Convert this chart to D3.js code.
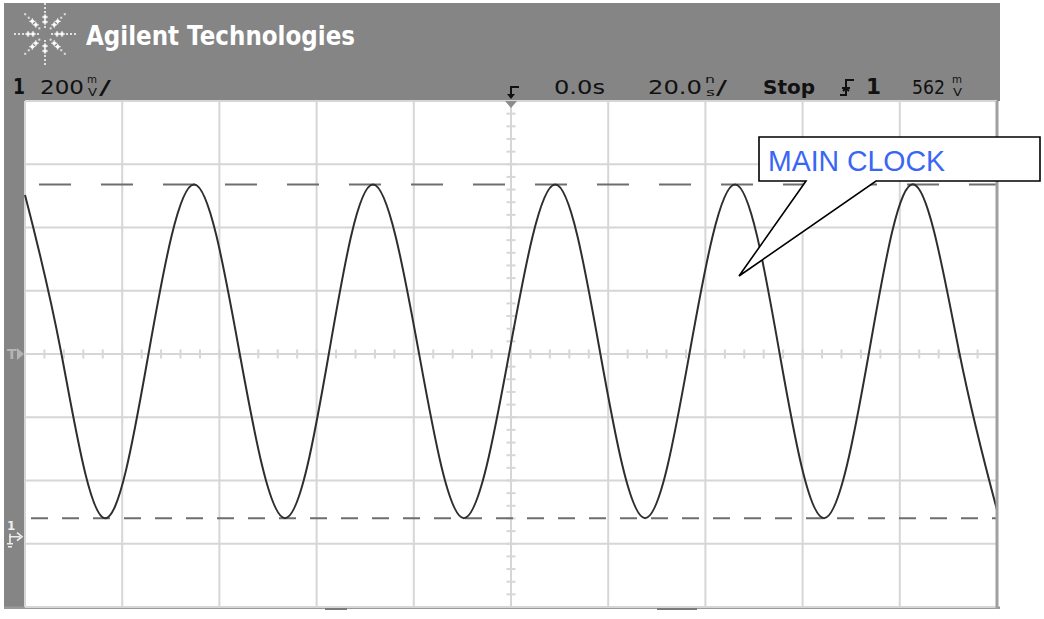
<!DOCTYPE html>
<html>
<head>
<meta charset="utf-8">
<script src="https://cdn.jsdelivr.net/npm/d3@7"></script>
<style>
    body { margin: 0; background: #fff; }
    svg { display: block; }
</style>
</head>
<body>
<div id="wrapper"></div>
<script>
// waveform: time in ns, level in mV
const waveTimes = [-100, -92.6, -83.7, -74.5, -65.2, -55.9, -46.5, -37.4, -28.4, -19.0, -9.7, -0.3,
    9.1, 18.3, 27.6, 36.8, 46.1, 55.2, 64.4, 73.7, 82.9, 92.2, 100];
const waveMillivolts = [1065, 570, 43, 570, 1098, 570, 43, 570, 1098, 570, 43, 570,
    1098, 570, 43, 570, 1098, 570, 43, 570, 1098, 570, 69];

// cursor levels (mV) shown as dashed lines
const cursorLevels = [1098, 43];
const cursorDashes = ["32,30", "17,14"];

// scope settings
const timePerDiv = 20;       // ns
const mvPerDiv = 200;        // mV
const triggerLevel = 562;    // mV, sits at screen centre
const timeDivs = 10;
const voltDivs = 8;

const statusLabels = ["0.0s", "20.0", "Stop", "1", "562"];

function drawScope() {
    let dimensions = {
        width: 1044,
        height: 619,
        margin: { top: 101, right: 47, bottom: 12, left: 25 },
    }
    dimensions.boundedWidth = dimensions.width - dimensions.margin.left - dimensions.margin.right;
    dimensions.boundedHeight = dimensions.height - dimensions.margin.top - dimensions.margin.bottom;

    const grey = "#858585";
    const gridColor = "#d6d6d6";

    const xScale = d3.scaleLinear()
        .domain([-timePerDiv * timeDivs / 2, timePerDiv * timeDivs / 2])
        .range([0, dimensions.boundedWidth]);

    const yScale = d3.scaleLinear()
        .domain([triggerLevel - mvPerDiv * voltDivs / 2, triggerLevel + mvPerDiv * voltDivs / 2])
        .range([dimensions.boundedHeight, 0]);

    const root = d3.select("#wrapper")
        .append("svg")
        .attr("width", dimensions.width)
        .attr("height", dimensions.height);

    // grey bezel
    root.append("rect").attr("x", 4).attr("y", 3).attr("width", 996).attr("height", 98).attr("fill", grey);
    root.append("rect").attr("x", 4).attr("y", 3).attr("width", 21).attr("height", 606).attr("fill", grey);
    root.append("rect").attr("x", 4).attr("y", 606.5).attr("width", 996).attr("height", 2.5).attr("fill", "#9a9a9a");
    root.append("rect").attr("x", 325).attr("y", 607).attr("width", 22).attr("height", 3).attr("fill", "#7a7a7a");
    root.append("rect").attr("x", 657).attr("y", 607).attr("width", 40).attr("height", 3).attr("fill", "#7a7a7a");

    // Agilent spark
    const logo = root.append("g").attr("transform", "translate(45,34)");
    d3.range(8).forEach(i => {
        const a = i * Math.PI / 4;
        const diag = i % 2 === 1;
        const radii = diag ? [8, 13, 18, 23, 28] : [7, 12, 17, 22, 26, 30];
        radii.forEach((r, k) => {
            const px = Math.cos(a) * r, py = Math.sin(a) * r;
            const big = (k === 1 || k === 2);
            logo.append("rect")
                .attr("x", px - (big ? 1.5 : 1)).attr("y", py - (big ? 1.5 : 1))
                .attr("width", big ? 3 : 2).attr("height", big ? 3 : 2)
                .attr("fill", big ? "#ffffff" : "#e0e0e0");
            if (big) {
                logo.append("rect").attr("x", px - 3).attr("y", py - 0.5).attr("width", 6).attr("height", 1).attr("fill", "#fff");
                logo.append("rect").attr("x", px - 0.5).attr("y", py - 3).attr("width", 1).attr("height", 6).attr("fill", "#fff");
            }
        });
    });

    root.append("text")
        .attr("x", 86).attr("y", 45)
        .attr("textLength", 269).attr("lengthAdjust", "spacingAndGlyphs")
        .style("font-family", "DejaVu Sans").style("font-weight", "bold").style("font-size", "27px")
        .attr("fill", "#fff")
        .text("Agilent Technologies");

    // status line
    const status = root.append("g")
        .style("font-family", "DejaVu Sans")
        .attr("fill", "#111");

    function label(x, y, txt, len, size, weight) {
        status.append("text")
            .attr("x", x).attr("y", y)
            .attr("textLength", len).attr("lengthAdjust", "spacingAndGlyphs")
            .style("font-size", size + "px").style("font-weight", weight || "normal")
            .text(txt);
    }
    function stackedUnit(x, top, bottom) {
        label(x, 83, top, 10, 10);
        label(x + 1, 96, bottom, 9, 10);
    }

    label(13, 94, "1", 12, 21, "bold");
    label(40, 94, "200", 44, 20);
    stackedUnit(87, "m", "V");
    label(99, 94, "/", 12, 20);

    label(554, 94, statusLabels[0], 51, 20);
    label(648, 94, statusLabels[1], 54, 20);
    stackedUnit(705, "n", "s");
    label(716, 94, "/", 11, 20);
    label(763, 94, statusLabels[2], 52, 20, "bold");
    label(866, 94, statusLabels[3], 15, 22, "bold");
    label(912, 94, statusLabels[4], 33, 20);
    stackedUnit(952, "m", "V");

    // trigger slope icon
    status.append("path")
        .attr("d", "M840,95 H846 V80 H854 M846,88 l-3,3 M846,88 l3,3 M842,88 H850")
        .attr("stroke", "#111").attr("stroke-width", 2).attr("fill", "none");

    // plot
    const bounds = root.append("g")
        .attr("transform", `translate(${dimensions.margin.left},${dimensions.margin.top})`);

    bounds.append("rect")
        .attr("width", dimensions.boundedWidth).attr("height", dimensions.boundedHeight)
        .attr("fill", "#fff");

    const xDivs = d3.range(xScale.domain()[0], xScale.domain()[1] + 0.1, timePerDiv);
    const yDivs = d3.range(yScale.domain()[0], yScale.domain()[1] + 0.1, mvPerDiv);

    bounds.append("g").selectAll("line")
        .data(xDivs)
        .join("line")
        .attr("x1", d => xScale(d)).attr("x2", d => xScale(d))
        .attr("y1", 0).attr("y2", dimensions.boundedHeight)
        .attr("stroke", gridColor).attr("stroke-width", 2);

    bounds.append("g").selectAll("line")
        .data(yDivs)
        .join("line")
        .attr("x1", 0).attr("x2", dimensions.boundedWidth)
        .attr("y1", d => yScale(d)).attr("y2", d => yScale(d))
        .attr("stroke", gridColor).attr("stroke-width", 2);

    // minor ticks on the centre lines
    const xMinor = d3.range(xScale.domain()[0], xScale.domain()[1] + 0.1, timePerDiv / 5);
    const yMinor = d3.range(yScale.domain()[0], yScale.domain()[1] + 0.1, mvPerDiv / 5);

    bounds.append("g").selectAll("line")
        .data(xMinor)
        .join("line")
        .attr("x1", d => xScale(d)).attr("x2", d => xScale(d))
        .attr("y1", yScale(triggerLevel) - 4.5).attr("y2", yScale(triggerLevel) + 4.5)
        .attr("stroke", gridColor).attr("stroke-width", 2);

    bounds.append("g").selectAll("line")
        .data(yMinor)
        .join("line")
        .attr("x1", xScale(0) - 4.5).attr("x2", xScale(0) + 4.5)
        .attr("y1", d => yScale(d)).attr("y2", d => yScale(d))
        .attr("stroke", gridColor).attr("stroke-width", 2);

    // right border
    root.append("rect")
        .attr("x", dimensions.margin.left + dimensions.boundedWidth - 1.5).attr("y", dimensions.margin.top)
        .attr("width", 3).attr("height", dimensions.boundedHeight + 2)
        .attr("fill", "#a0a0a0");

    // cursors
    bounds.append("g").selectAll("line")
        .data(cursorLevels)
        .join("line")
        .attr("x1", (d, i) => i === 0 ? 14 : 6).attr("x2", dimensions.boundedWidth)
        .attr("y1", d => yScale(d)).attr("y2", d => yScale(d))
        .attr("stroke", "#6e6e6e").attr("stroke-width", 2)
        .attr("stroke-dasharray", (d, i) => cursorDashes[i]);

    // waveform
    const wave = waveTimes.map((t, i) => ({ t: t, mv: waveMillivolts[i] }));
    bounds.append("path")
        .datum(wave)
        .attr("d", d3.line()
            .x(d => xScale(d.t))
            .y(d => yScale(d.mv))
            .curve(d3.curveNatural))
        .attr("fill", "none")
        .attr("stroke", "#2e2e2e")
        .attr("stroke-width", 2);

    // trigger position marker
    const tx = dimensions.margin.left + xScale(0);
    root.append("path")
        .attr("d", `M${tx - 6},${dimensions.margin.top} h12 l-6,7 z`)
        .attr("fill", "#8c8c8c");
    root.append("path")
        .attr("d", `M${tx + 8},87 H${tx} V97`)
        .attr("stroke", "#111").attr("stroke-width", 2).attr("fill", "none");
    root.append("path")
        .attr("d", `M${tx - 4},94 L${tx},99 L${tx + 4},94 z`)
        .attr("fill", "#111");

    // left markers: trigger level and channel ground
    const ty = dimensions.margin.top + yScale(triggerLevel);
    root.append("text")
        .attr("x", 7).attr("y", ty + 5)
        .style("font-family", "DejaVu Sans").style("font-size", "14px").style("font-weight", "bold")
        .attr("fill", "#b4b4b4")
        .text("T");
    root.append("path")
        .attr("d", `M17,${ty - 6} L24,${ty} L17,${ty + 6} z`)
        .attr("fill", "#b4b4b4");

    const gy = dimensions.margin.top + yScale(0);
    root.append("text")
        .attr("x", 7).attr("y", gy - 2)
        .style("font-family", "DejaVu Sans").style("font-size", "12px").style("font-weight", "bold")
        .attr("fill", "#eeeeee")
        .text("1");
    root.append("path")
        .attr("d", `M9,${gy + 5} H20 M17,${gy + 1} L22,${gy + 5} L17,${gy + 9} M10,${gy + 2} V${gy + 12} M7,${gy + 12} H13 M8,${gy + 15} H12`)
        .attr("stroke", "#eeeeee").attr("stroke-width", 1.6).attr("fill", "none");

    // callout
    const callout = root.append("g");
    callout.append("path")
        .attr("d", "M759,137 H1040 V181 H876 L739,276 L806,181 H759 Z")
        .attr("fill", "#fff")
        .attr("stroke", "#000")
        .attr("stroke-width", 1.6)
        .attr("stroke-linejoin", "miter");
    callout.append("text")
        .attr("x", 768).attr("y", 171)
        .attr("textLength", 177).attr("lengthAdjust", "spacingAndGlyphs")
        .style("font-family", "Liberation Sans").style("font-size", "30px")
        .attr("fill", "#3a66f5")
        .text("MAIN CLOCK");
}

drawScope();
</script>
</body>
</html>
